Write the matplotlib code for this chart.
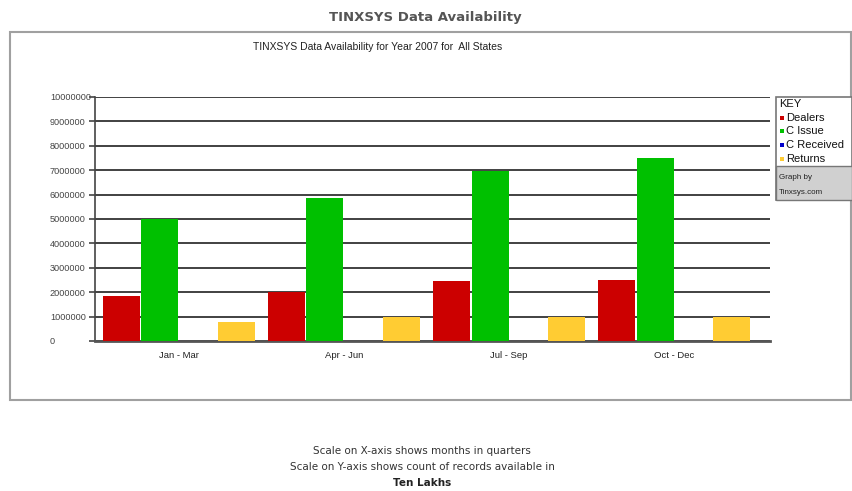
import matplotlib
matplotlib.use("Agg")
import matplotlib.pyplot as plt
from matplotlib.patches import Rectangle
import numpy as np

categories = ["Jan - Mar", "Apr - Jun", "Jul - Sep", "Oct - Dec"]
series_names = ["Dealers", "C Issue", "C Received", "Returns"]
dealers = [1840000, 2000000, 2450000, 2500000]
c_issue = [5000000, 5850000, 6980000, 7520000]
c_received = [0, 0, 0, 0]
returns = [780000, 1000000, 1000000, 1000000]
colors = ["#CC0000", "#00C000", "#0000CC", "#FFCC33"]
yticks = list(range(0, 10000001, 1000000))

fig = plt.figure(figsize=(8.52, 4.91), dpi=100)
W, H = 852, 491

def fx(px):
    return px / W

def fy(py):
    return 1 - py / H

# outer frame
fig.patches.append(Rectangle((fx(10), fy(400)), fx(851) - fx(10), fy(32) - fy(400),
                             transform=fig.transFigure, fill=False,
                             edgecolor="#A0A0A0", linewidth=1.5))

fig.text(fx(425), fy(18), "TINXSYS Data Availability", ha="center", va="center",
         fontsize=9.5, fontweight="bold", color="#555555", family="DejaVu Sans")
fig.text(fx(378), fy(47), "TINXSYS Data Availability for Year 2007 for  All States",
         ha="center", va="center", fontsize=7.5, color="#222222", family="Liberation Sans")

ax = fig.add_axes([fx(95), fy(341), fx(770) - fx(95), fy(97) - fy(341)])
x = np.arange(len(categories))
step = 0.232
width = 0.224
for i, (vals, c) in enumerate(zip([dealers, c_issue, c_received, returns], colors)):
    ax.bar(x + (i - 1.5) * step, vals, width=width, color=c, zorder=3)

ax.set_xlim(-0.509, 3.58)
ax.set_ylim(0, 10000000)
ax.set_yticks(yticks)
ax.set_yticklabels([str(v) for v in yticks], fontsize=6.6, color="#444444",
                   family="Liberation Sans", ha="left")
ax.set_xticks(x)
ax.set_xticklabels(categories, fontsize=6.8, color="#222222", family="Liberation Sans")
ax.tick_params(axis="x", length=0, pad=7)
ax.tick_params(axis="y", length=4, width=1.2, color="#444444", pad=28.5)
ax.yaxis.grid(True, color="#333333", linewidth=1.3, zorder=0)
for s in ["top", "right"]:
    ax.spines[s].set_visible(False)
ax.spines["left"].set_color("#444444")
ax.spines["left"].set_linewidth(1.2)
ax.spines["bottom"].set_color("#555555")
ax.spines["bottom"].set_linewidth(2)

# legend / key box
lx0, lx1 = 776, 852
fig.patches.append(Rectangle((fx(lx0), fy(200)), fx(lx1) - fx(lx0), fy(97) - fy(200),
                             transform=fig.transFigure, facecolor="white",
                             edgecolor="#777777", linewidth=1.2))
fig.patches.append(Rectangle((fx(lx0), fy(200)), fx(lx1) - fx(lx0), fy(166) - fy(200),
                             transform=fig.transFigure, facecolor="#D0D0D0",
                             edgecolor="#777777", linewidth=1.0))
fig.text(fx(779), fy(104), "KEY", ha="left", va="center", fontsize=8,
         color="#111111", family="Liberation Sans")
for i, (name, c) in enumerate(zip(series_names, colors)):
    yy = 118 + i * 13.5
    fig.patches.append(Rectangle((fx(780), fy(yy + 2)), fx(4), 4 / H,
                                 transform=fig.transFigure, facecolor=c, edgecolor="none"))
    fig.text(fx(786), fy(yy), name, ha="left", va="center", fontsize=8,
             color="#111111", family="Liberation Sans")
fig.text(fx(779), fy(177), "Graph by", ha="left", va="center", fontsize=5.8,
         color="#222222", family="Liberation Sans")
fig.text(fx(779), fy(192), "Tinxsys.com", ha="left", va="center", fontsize=5.8,
         color="#222222", family="Liberation Sans")

fig.text(fx(422), fy(451), "Scale on X-axis shows months in quarters", ha="center", va="center",
         fontsize=7.5, color="#333333", family="DejaVu Sans")
fig.text(fx(422), fy(467), "Scale on Y-axis shows count of records available in", ha="center",
         va="center", fontsize=7.5, color="#333333", family="DejaVu Sans")
fig.text(fx(422), fy(483), "Ten Lakhs", ha="center", va="center",
         fontsize=7.5, fontweight="bold", color="#222222", family="DejaVu Sans")

fig.savefig("out.png", dpi=100)
